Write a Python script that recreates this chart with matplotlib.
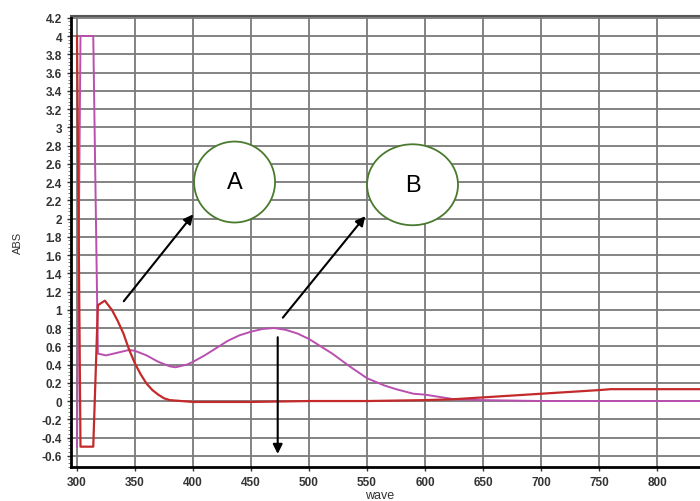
import numpy as np
import matplotlib.pyplot as plt
from matplotlib.patches import Ellipse
from matplotlib.ticker import MultipleLocator, FuncFormatter

# NOTE: values
red_wave = [300, 303, 314, 318, 324, 330, 335, 340, 345, 350, 355, 360, 365, 370,
            375, 380, 390, 400, 450, 500, 550, 600, 625, 650, 675, 700, 725, 750,
            760, 800, 840]
red_abs = [4.0, -0.5, -0.5, 1.05, 1.1, 1.0, 0.88, 0.74, 0.56, 0.41, 0.29, 0.19, 0.12,
           0.07, 0.03, 0.01, 0.0, -0.01, -0.01, 0.0, 0.0, 0.01, 0.02, 0.04, 0.06,
           0.08, 0.1, 0.12, 0.13, 0.13, 0.13]

mag_wave = [300, 303, 314, 318, 325, 335, 345, 350, 360, 370, 380, 385, 395, 400,
            410, 420, 430, 440, 450, 460, 470, 480, 490, 500, 510, 520, 535, 550,
            565, 575, 590, 600, 610, 625, 650, 700, 750, 800, 840]
mag_abs = [-0.5, 4.0, 4.0, 0.52, 0.5, 0.53, 0.56, 0.55, 0.5, 0.43, 0.38, 0.37, 0.4,
           0.43, 0.5, 0.58, 0.66, 0.72, 0.76, 0.79, 0.8, 0.78, 0.74, 0.68, 0.6,
           0.52, 0.38, 0.25, 0.17, 0.13, 0.08, 0.07, 0.05, 0.02, 0.01, 0.0, 0.0,
           0.0, 0.0]

x_ticks = [300, 350, 400, 450, 500, 550, 600, 650, 700, 750, 800]
y_ticks = np.round(np.arange(-0.6, 4.21, 0.2), 1)

label_a = "A"
label_b = "B"

fig = plt.figure(figsize=(7.0, 5.02), dpi=100)
ax = fig.add_axes([0.1014, 0.0677, 0.8986, 0.898])

ax.plot(mag_wave, mag_abs, color="#b94fae", linewidth=1.4, zorder=3)
ax.plot(red_wave, red_abs, color="#c42a2a", linewidth=1.6, zorder=4)

ax.set_xlim(294.8, 837)
ax.set_ylim(-0.723, 4.217)

ax.set_xticks(x_ticks)
ax.set_yticks(y_ticks)
ax.yaxis.set_minor_locator(MultipleLocator(0.04))
ax.yaxis.set_major_formatter(FuncFormatter(lambda v, p: "{:g}".format(round(v, 1))))

ax.grid(True, which="major", color="#7a7a7a", linewidth=1.3)
ax.set_axisbelow(True)

for side in ["left", "bottom"]:
    ax.spines[side].set_linewidth(2.0)
    ax.spines[side].set_color("black")
ax.spines["top"].set_color("#555555")
ax.spines["top"].set_linewidth(1.5)
ax.spines["right"].set_visible(False)

ax.tick_params(axis="both", which="major", labelsize=8.5, colors="#333333",
               length=3, width=1)
ax.tick_params(axis="y", which="minor", length=2, width=0.6, colors="#666666")
for lab in ax.get_xticklabels() + ax.get_yticklabels():
    lab.set_fontweight("bold")
    lab.set_family("Liberation Sans")

ax.set_ylabel("ABS", fontsize=8, family="Liberation Sans", color="#333333")
ax.yaxis.set_label_coords(-0.077, 0.5)
ax.set_xlabel("wave", fontsize=9, family="Liberation Sans", color="#333333")
ax.xaxis.set_label_coords(0.49, -0.048)

# NOTE: circles with labels
ell_a = Ellipse((435.8, 2.40), 69.8, 0.887, facecolor="white",
                edgecolor="#4a7a2e", linewidth=1.3, zorder=5)
ell_b = Ellipse((589.2, 2.37), 78.4, 0.887, facecolor="white",
                edgecolor="#4a7a2e", linewidth=1.3, zorder=5)
ax.add_patch(ell_a)
ax.add_patch(ell_b)
ax.text(435.8, 2.40, label_a, ha="center", va="center", fontsize=17,
        family="Liberation Sans", zorder=6)
ax.text(589.2, 2.37, label_b, ha="center", va="center", fontsize=17,
        family="Liberation Sans", zorder=6)

arrow_kw = dict(arrowstyle="-|>", color="black", linewidth=1.5, mutation_scale=14)
ax.annotate("", xy=(401.7, 2.07), xytext=(338.8, 1.07), arrowprops=arrow_kw, zorder=7)
ax.annotate("", xy=(550.0, 2.05), xytext=(475.9, 0.89), arrowprops=arrow_kw, zorder=7)
ax.annotate("", xy=(473.0, -0.61), xytext=(473.0, 0.73), arrowprops=arrow_kw, zorder=7)

plt.savefig("out.png", dpi=100)
